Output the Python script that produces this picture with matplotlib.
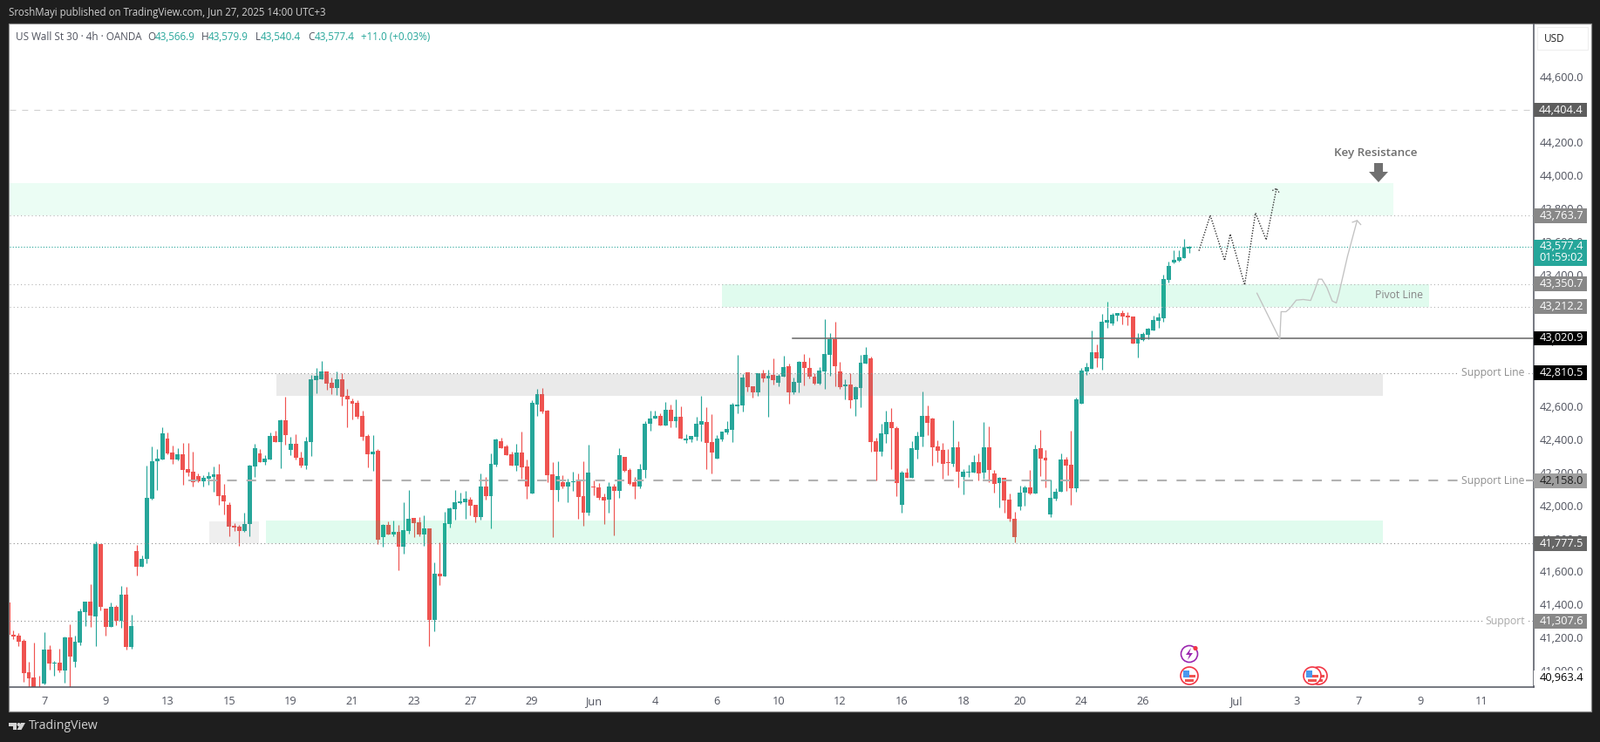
import matplotlib
matplotlib.use("Agg")
import matplotlib.pyplot as plt
from matplotlib.patches import Rectangle, Circle, Polygon

plt.rcParams["font.family"] = "Open Sans"
plt.rcParams["lines.scale_dashes"] = False

# ---------- data (bar number 0 = first visible candle, 4h bars) ----------
opens = [41421,41225,41220,41188,40998,40966,40880,40929,41135,41051,41056,41009,41209,41061,41178,41362,41426,41336,41774,41384,
 41273,41394,41310,41468,41151,41732,41637,41685,42049,42276,42286,42413,42329,42286,42318,42228,42213,42186,42154,42170,
 42181,42197,42070,42012,41885,41880,41853,41896,42244,42323,42271,42286,42429,42392,42524,42345,42381,42297,42249,42392,
 42767,42772,42820,42751,42719,42772,42672,42640,42630,42550,42429,42318,42339,41817,41890,41832,41848,41758,41853,41933,
 41906,41832,41869,41315,41595,41579,41896,41986,42022,42028,42044,42012,41938,42123,42065,42255,42397,42366,42318,42249,
 42329,42244,42081,42619,42682,42582,42197,42102,42149,42123,42149,42154,42065,41964,42123,42117,42059,42044,42123,42096,
 42302,42223,42149,42123,42223,42503,42535,42550,42492,42587,42519,42545,42403,42408,42424,42498,42513,42392,42292,42408,
 42450,42466,42609,42614,42814,42730,42693,42809,42777,42799,42751,42788,42852,42693,42751,42878,42841,42788,42746,42820,
 42920,43015,42820,42730,42741,42651,42720,42867,42899,42397,42334,42440,42513,42476,42012,42207,42175,42344,42423,42550,
 42534,42365,42344,42270,42260,42360,42180,42207,42207,42270,42207,42360,42201,42144,42175,42043,41927,42001,42085,42117,
 42080,42355,42297,41953,42049,42091,42286,42254,42112,42624,42820,42835,42935,42899,43115,43110,43157,43173,43157,43152,
 42988,43009,43041,43067,43125,43141,43374,43479,43490,43506,43566.9]
highs = [41421,41253,41236,41199,41061,41178,40977,41241,41162,41067,41141,41215,41289,41220,41384,41426,41531,41790,41774,41384,
 41421,41405,41521,41516,41347,41769,41706,42249,42366,42350,42482,42450,42371,42355,42387,42387,42334,42202,42191,42213,
 42244,42260,42139,42028,41901,41890,41964,42255,42381,42350,42313,42450,42461,42529,42667,42424,42440,42334,42424,42799,
 42841,42883,42820,42783,42820,42809,42714,42656,42645,42582,42440,42434,42350,41896,41912,41917,41890,42028,42102,41933,
 41938,41949,41869,41663,41785,41970,41996,42102,42086,42096,42059,42012,42202,42181,42323,42413,42418,42376,42334,42381,
 42455,42286,42645,42714,42719,42587,42271,42276,42191,42170,42213,42202,42276,42376,42160,42144,42081,42149,42139,42355,
 42302,42234,42181,42260,42519,42582,42582,42566,42635,42619,42651,42609,42440,42429,42545,42672,42603,42561,42434,42455,
 42519,42630,42920,42804,42814,42730,42809,42830,42830,42899,42804,42915,42867,42783,42883,42925,42904,42809,42846,43136,
 43052,43120,42878,42772,42809,42730,42920,42968,42910,42419,42503,42582,42598,42487,42218,42233,42397,42455,42698,42614,
 42540,42402,42386,42349,42524,42397,42228,42254,42312,42323,42513,42487,42223,42180,42175,42080,41969,42128,42128,42223,
 42376,42466,42344,42165,42112,42323,42302,42460,42661,42841,42873,43067,42983,43168,43242,43173,43173,43189,43178,43152,
 43052,43057,43083,43157,43173,43405,43484,43553,43553,43622,43579.9]
lows = [41227,41201,41158,40940,40890,40860,40800,40924,41014,40977,40998,40935,40890,41030,41162,41278,41273,41157,41373,41220,
 41273,41283,41267,41135,41141,41584,41637,41658,42044,42102,42286,42318,42260,42281,42133,42186,42123,42149,42123,42133,
 42091,42012,41954,41822,41853,41764,41848,41822,42181,42271,42255,42286,42392,42234,42376,42313,42286,42239,42228,42308,
 42688,42772,42709,42682,42677,42614,42482,42529,42535,42403,42239,42218,41774,41758,41832,41822,41616,41716,41838,41817,
 41822,41764,41157,41246,41526,41579,41875,41922,42017,41927,41949,41906,41922,42044,41869,42244,42355,42313,42249,42218,
 42170,42049,42081,42550,42566,42149,41817,42033,42112,42028,42096,41927,41885,41949,42070,42044,41896,41964,41827,42054,
 42213,42133,42049,42112,42176,42461,42535,42492,42492,42482,42482,42413,42387,42392,42403,42397,42228,42202,42292,42397,
 42440,42392,42566,42577,42698,42661,42672,42756,42545,42741,42730,42788,42624,42682,42693,42735,42777,42741,42741,42714,
 42794,42730,42714,42651,42598,42551,42603,42867,42334,42159,42308,42387,42228,42064,41964,42175,42175,42292,42365,42434,
 42249,42270,42170,42191,42244,42117,42075,42180,42207,42159,42170,42149,42085,41996,41964,41911,41784,41980,42006,42075,
 42080,42186,42117,41938,42038,42091,42096,42012,42091,42624,42799,42835,42846,42830,43083,43099,43125,43105,43099,42988,
 42904,43004,43015,43067,43083,43120,43358,43474,43484,43506,43540.4]
closes = [41227,41215,41185,40993,40961,40880,40830,41135,41051,41056,41009,41209,41093,41183,41368,41426,41341,41774,41394,41273,
 41394,41310,41468,41151,41278,41637,41685,42054,42276,42292,42445,42323,42286,42318,42223,42207,42149,42154,42176,42186,
 42197,42065,42033,41880,41875,41853,41896,42249,42355,42271,42292,42429,42392,42524,42434,42381,42297,42249,42397,42772,
 42793,42820,42746,42719,42772,42667,42651,42624,42545,42424,42318,42334,41801,41890,41832,41848,41758,41859,41927,41901,
 41832,41869,41315,41595,41579,41901,41991,42028,42033,42049,42007,41938,42123,42065,42260,42408,42355,42313,42249,42329,
 42239,42123,42630,42682,42577,42191,42102,42186,42123,42149,42154,42059,41964,42207,42117,42054,42038,42123,42096,42313,
 42218,42139,42123,42228,42503,42535,42550,42492,42587,42519,42545,42413,42413,42429,42503,42519,42387,42329,42413,42455,
 42471,42619,42619,42783,42725,42693,42809,42777,42793,42767,42793,42846,42693,42756,42878,42841,42788,42746,42825,42925,
 43015,42851,42725,42741,42646,42725,42873,42920,42392,42334,42445,42513,42476,42144,42207,42175,42355,42429,42550,42508,
 42360,42339,42260,42265,42360,42212,42212,42212,42270,42201,42360,42223,42138,42175,42038,41927,41816,42085,42117,42080,
 42349,42291,42281,42054,42091,42286,42249,42112,42651,42825,42846,42935,42899,43120,43131,43163,43173,43152,43147,42988,
 43020,43046,43078,43131,43147,43379,43458,43495,43511,43569,43577.4]

x_tick_bars = [7,19,31,43,55,67,79,90,102,114,126,138,150,162,174,186,197,209,221,239,251,263,275,287]
x_tick_labels = ["7","9","13","15","19","21","23","27","29","Jun","4","6","10","12","16","18","20","24","26","Jul","3","7","9","11"]
y_ticks = [41000,41200,41400,41600,41800,42000,42200,42400,42600,42800,43000,43200,43400,43600,43800,44000,44200,44400,44600]

zone_bars_start = [0, 139, 52.2, 50.2, 39.2]
zone_bars_end = [269.7, 276.7, 267.7, 267.7, 48.8]
zone_low = [43763.7, 43212.2, 42672, 41777.5, 41777.5]
zone_high = [43963, 43350.7, 42804, 41916, 41911]
zone_colors = ["#00e676", "#00e676", "#808080", "#00e676", "#808080"]
zone_alphas = [0.08, 0.12, 0.16, 0.12, 0.12]

dotted_levels = [43763.7, 43350.7, 43212.2, 42810.5, 41777.5, 41307.6]
dotted_colors = ["#b4b4b4", "#b4b4b4", "#b4b4b4", "#8c8c8c", "#8c8c8c", "#8c8c8c"]
dashed_top = 44404.4
dashed_support = 42158.0
dashed_support_start = 35.0
last_price = 43577.4
solid_level = 43020.9
solid_start = 152.7

path_black_x = [231.9, 234.1, 236.9, 238.0, 240.8, 242.9, 245.0, 247.0]
path_black_y = [43551, 43766, 43493, 43652, 43344, 43780, 43617, 43928]
path_black_head_x = [246.2, 247.0, 247.6]
path_black_head_y = [43916, 43928, 43900]
path_gray_x = [243.2, 247.65, 247.9, 248.85, 249.5, 250.85, 252.2, 253.65, 254.5, 255.2, 255.85, 256.85, 257.85, 258.65, 259.15, 260.85, 262.7]
path_gray_y = [43294, 43015, 43182, 43182, 43199, 43252, 43256, 43250, 43317, 43379, 43379, 43326, 43247, 43235, 43291, 43520, 43734]
path_gray_head_x = [261.8, 262.7, 263.4]
path_gray_head_y = [43724, 43734, 43710]

tag_prices = [44404.4, 43763.7, 43350.7, 43212.2, 43020.9, 42810.5, 42158.0, 41777.5, 41307.6, 40963.4]
tag_labels = ["44,404.4", "43,763.7", "43,350.7", "43,212.2", "43,020.9", "42,810.5", "42,158.0", "41,777.5", "41,307.6", "40,963.4"]
tag_colors = ["#5d5d5d", "#888888", "#888888", "#888888", "#000000", "#000000", "#9e9e9e", "#666666", "#888888", "#ffffff"]
tag_text_colors = ["#ffffff", "#ffffff", "#ffffff", "#ffffff", "#ffffff", "#ffffff", "#1e1e1e", "#ffffff", "#ffffff", "#000000"]
tag_weights = ["medium", "medium", "medium", "medium", "medium", "medium", "normal", "medium", "medium", "normal"]

UP = "#26a69a"
DOWN = "#ef5350"
TXT = "#50535e"
W, H = 1835, 851
YMIN, YMAX = 40908, 44925
XMIN, XMAX = 0.18, 297.1


def box(x0, y0, x1, y1):
    return [x0 / W, 1 - y1 / H, (x1 - x0) / W, (y1 - y0) / H]


fig = plt.figure(figsize=(W / 100, H / 100), dpi=100, facecolor="#1e1e1e")

# white panel
panel = fig.add_axes([0, 0, 1, 1], zorder=0)
panel.set_xlim(0, W)
panel.set_ylim(H, 0)
panel.axis("off")
panel.add_patch(Rectangle((10, 27), 1815, 789, fc="white", ec="#8a8a8a", lw=0.9))

# main chart
ax = fig.add_axes(box(10.5, 27.5, 1759, 788), zorder=1)
ax.set_xlim(XMIN, XMAX)
ax.set_ylim(YMIN, YMAX)
ax.set_facecolor("white")
for s in ["top", "left"]:
    ax.spines[s].set_visible(False)
for s in ["right", "bottom"]:
    ax.spines[s].set_color("#50535e")
    ax.spines[s].set_linewidth(1.1)
ax.set_yticks([])
ax.set_xticks(x_tick_bars)
ax.set_xticklabels(x_tick_labels, fontsize=9.2, color=TXT)
ax.tick_params(axis="x", length=0, pad=7)
bars = list(range(len(opens)))
cols = [UP if c >= o else DOWN for o, c in zip(opens, closes)]
ax.vlines(bars, lows, highs, colors=cols, lw=0.85, zorder=2)
bottoms = [min(o, c) for o, c in zip(opens, closes)]
heights = [max(abs(c - o), 5.0) for o, c in zip(opens, closes)]
ax.bar(bars, heights, bottom=bottoms, width=0.84, color=cols, linewidth=0, zorder=2)

for x0, x1, lo, hi, c, a in zip(zone_bars_start, zone_bars_end, zone_low, zone_high, zone_colors, zone_alphas):
    ax.add_patch(Rectangle((max(x0, XMIN), lo), x1 - max(x0, XMIN), hi - lo, fc=c, alpha=a, lw=0, zorder=3))

for lvl, col in zip(dotted_levels, dotted_colors):
    ax.plot([XMIN, XMAX], [lvl, lvl], color=col, lw=0.8, ls=(0, (0.8, 2.2)), zorder=4)
ax.plot([XMIN, XMAX], [dashed_top, dashed_top], color="#cfcfcf", lw=0.75, ls=(0, (5, 5)), zorder=4)
ax.plot([XMIN, XMAX], [last_price, last_price], color=UP, lw=0.8, ls=(0, (0.8, 1.5)), zorder=4)
ax.plot([dashed_support_start, XMAX], [dashed_support, dashed_support], color="#b2b2b2", lw=1.5, ls=(0, (8, 8)), zorder=4)
ax.plot([solid_start, XMAX], [solid_level, solid_level], color="#666666", lw=1.1, zorder=4)

ax.plot(path_black_x, path_black_y, color="#333333", lw=1.0, ls=(0, (1.0, 1.2)), zorder=5)
ax.plot(path_black_head_x, path_black_head_y, color="#333333", lw=0.9, ls=(0, (1.0, 1.2)), zorder=5)
ax.plot(path_gray_x, path_gray_y, color="#c2c2c2", lw=0.95, zorder=5)
ax.plot(path_gray_head_x, path_gray_head_y, color="#c2c2c2", lw=0.95, zorder=5)

lab = dict(ha="center", va="center", fontsize=8.7, zorder=6)
wb = dict(fc="white", ec="none", pad=1.5)
ax.text(289.1, 42810.5, "Support Line", color="#8f8f8f", bbox=wb, **lab)
ax.text(289.1, 42158.0, "Support Line", color="#8f8f8f", bbox=wb, **lab)
ax.text(291.5, 41307.6, "Support", color="#aaaaaa", bbox=wb, **lab)
ax.text(270.8, 43281, "Pivot Line", color="#858585", **lab)
ax.text(266.4, 44141, "Key Resistance", color="#6e6e6e", fontweight="semibold", ha="center", va="center", fontsize=9.6, zorder=6)

# price scale
px = fig.add_axes(box(1759, 27.5, 1825, 788), zorder=2)
px.set_xlim(0, 66)
px.set_ylim(YMIN, YMAX)
px.axis("off")
for t in y_ticks:
    px.text(31.5, t, f"{t:,.1f}", ha="center", va="center", fontsize=9.2, color=TXT, zorder=1, clip_on=True)
for p, l, c, tc, fw in zip(tag_prices, tag_labels, tag_colors, tag_text_colors, tag_weights):
    px.add_patch(Rectangle((0, p - 44), 61, 88, fc=c, lw=0, zorder=2))
    px.text(31.5, p, l, ha="center", va="center", fontsize=9.2, color=tc, fontweight=fw, zorder=3)
px.add_patch(Rectangle((0, 43460), 61, 158, fc=UP, lw=0, zorder=2))
px.text(31.5, 43577.4, "43,577.4", ha="center", va="center", fontsize=9.2, color="white", zorder=3)
px.text(31.5, 43507, "01:59:02", ha="center", va="center", fontsize=9.2, color="white", zorder=3)

# overlay: chrome, icons
ov = fig.add_axes([0, 0, 1, 1], zorder=3)
ov.set_xlim(0, W)
ov.set_ylim(H, 0)
ov.axis("off")
ov.patch.set_alpha(0)

ov.text(10, 14.5, "SroshMayi published on TradingView.com, Jun 27, 2025 14:00 UTC+3", color="#d0d0d0", fontsize=8.3, va="center")
ov.text(18, 42, "US Wall St 30 · 4h · OANDA", color=TXT, fontsize=8.5, va="center")
for x, s, c in [(169, "O", TXT), (178, "43,566.9", UP), (231, "H", TXT), (239, "43,579.9", UP), (293, "L", TXT),
                (299, "43,540.4", UP), (353, "C", TXT), (361, "43,577.4", UP), (414, "+11.0 (+0.03%)", UP)]:
    ov.text(x, 42, s, color=c, fontsize=8.4, va="center")

ov.add_patch(Rectangle((1763, 31), 58, 26, fc="white", ec="#eeeeee", lw=0.8))
ov.text(1783, 44.5, "USD", color="#222222", fontsize=8.5, ha="center", va="center")

# key resistance arrow
ov.add_patch(Polygon([(1576, 187), (1586, 187), (1586, 197), (1592, 197), (1581, 209), (1570, 197), (1576, 197)], fc="#707070", lw=0))


def flag(cx, cy):
    ov.add_patch(Circle((cx, cy), 10, fc="white", ec="#f23645", lw=1.2))
    ov.add_patch(Circle((cx, cy), 7.5, fc="white", ec="none"))
    ov.add_patch(Rectangle((cx - 7, cy - 1.5), 14, 3.5, fc="#ef5350", lw=0))
    ov.add_patch(Rectangle((cx - 5, cy + 4.3), 10, 2.4, fc="#ef5350", lw=0))
    ov.add_patch(Rectangle((cx - 7, cy - 6.5), 7, 8, fc="#4a98ee", lw=0))


flag(1512, 775)
flag(1505, 775)
flag(1364, 775)
ov.add_patch(Circle((1364, 750), 9.5, fc="white", ec="#9c27b0", lw=1.2))
ov.add_patch(Polygon([(1366, 743), (1360, 751), (1364, 751), (1362, 757), (1368, 749), (1364, 749)], fc="#9c27b0", lw=0))
ov.add_patch(Circle((1371, 743.5), 2.6, fc="#f23645", lw=0))

# TradingView logo
ov.add_patch(Polygon([(10, 829), (19, 829), (19, 837), (15, 837), (15, 833), (10, 833)], fc="#d4d4d4", lw=0))
ov.add_patch(Circle((21.5, 831), 2, fc="#d4d4d4", lw=0))
ov.add_patch(Polygon([(24, 829), (29, 829), (24.5, 837), (19.5, 837)], fc="#d4d4d4", lw=0))
ov.text(33, 833, "TradingView", color="#d0d0d0", fontsize=10.2, va="center")

fig.savefig("out.png", dpi=100, facecolor=fig.get_facecolor())
